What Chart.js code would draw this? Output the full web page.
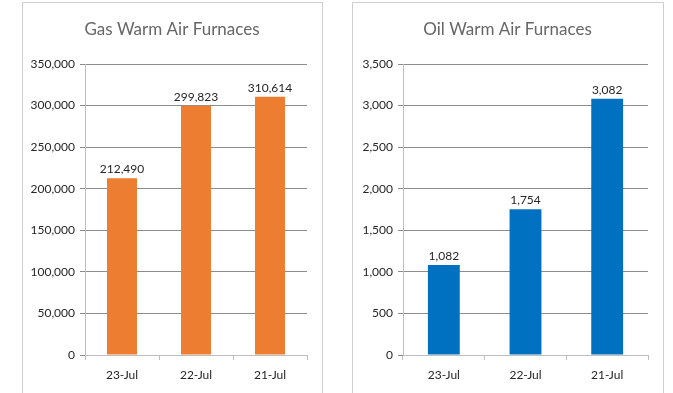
<!DOCTYPE html>
<html lang="en">
<head>
<meta charset="UTF-8">
<title>Warm Air Furnaces</title>
<script src="https://cdn.jsdelivr.net/npm/chart.js"></script>
<style>
  body { margin: 0; background: #fff; width: 673px; height: 393px; overflow: hidden; position: relative; }
  .box { position: absolute; top: 2px; height: 400px; border: 1.5px solid #cfcfcf; box-sizing: border-box; }
  #gas-box { left: 22px; width: 301px; }
  #oil-box { left: 352px; width: 312px; }
  canvas { display: block; }
</style>
</head>
<body>
<div class="box" id="gas-box"><canvas id="gas-chart" width="298" height="397"></canvas></div>
<div class="box" id="oil-box"><canvas id="oil-chart" width="309" height="397"></canvas></div>
<script>
const days = ['23-Jul', '22-Jul', '21-Jul'];
const gasValues = [212490, 299823, 310614];
const oilValues = [1082, 1754, 3082];

const FONT = 'Lato, "Open Sans", sans-serif';

// prints the value over each bar, and the title centred on the whole box
const valueLabels = {
    id: 'valueLabels',
    afterDatasetsDraw(chart, args, opts) {
        const ctx = chart.ctx;
        const meta = chart.getDatasetMeta(0);
        ctx.save();
        ctx.font = '12px ' + FONT;
        ctx.fillStyle = '#262626';
        ctx.textAlign = 'center';
        ctx.textBaseline = 'bottom';
        meta.data.forEach((bar, i) => {
            const v = chart.data.datasets[0].data[i];
            ctx.fillText(v.toLocaleString('en-US'), bar.x, bar.y - 3);
        });
        ctx.font = '17px ' + FONT;
        ctx.fillStyle = '#666666';
        ctx.textBaseline = 'middle';
        ctx.fillText(opts.text, chart.width / 2, 27);
        ctx.restore();
    }
};

function makeChart(id, title, values, color, max, step, yWidth, barPct) {
    const ctx = document.getElementById(id).getContext('2d');
    return new Chart(ctx, {
        type: 'bar',
        data: {
            labels: days,
            datasets: [{
                data: values,
                backgroundColor: color,
                categoryPercentage: 1,
                barPercentage: barPct
            }]
        },
        plugins: [valueLabels],
        options: {
            responsive: false,
            animation: false,
            layout: { padding: { left: 0, right: 14, top: 61, bottom: 0 } },
            plugins: {
                legend: { display: false },
                tooltip: { enabled: false },
                title: { display: false },
                valueLabels: { text: title }
            },
            scales: {
                x: {
                    afterFit: s => { s.height = 45; },
                    grid: { drawOnChartArea: false, offset: true, tickLength: 5, color: '#bfbfbf' },
                    border: { color: '#bfbfbf' },
                    ticks: { color: '#262626', font: { family: FONT, size: 12 }, padding: 8 }
                },
                y: {
                    min: 0,
                    max: max,
                    afterFit: s => { s.width = yWidth; },
                    grid: { color: '#8c8c8c', tickLength: 5 },
                    border: { color: '#bfbfbf' },
                    ticks: {
                        stepSize: step,
                        color: '#262626',
                        font: { family: FONT, size: 12 },
                        padding: 5,
                        callback: v => v.toLocaleString('en-US')
                    }
                }
            }
        }
    });
}

makeChart('gas-chart', 'Gas Warm Air Furnaces', gasValues, '#ED7D31', 350000, 50000, 62, 0.405);
makeChart('oil-chart', 'Oil Warm Air Furnaces', oilValues, '#0070C0', 3500, 500, 50, 0.39);
</script>
</body>
</html>
